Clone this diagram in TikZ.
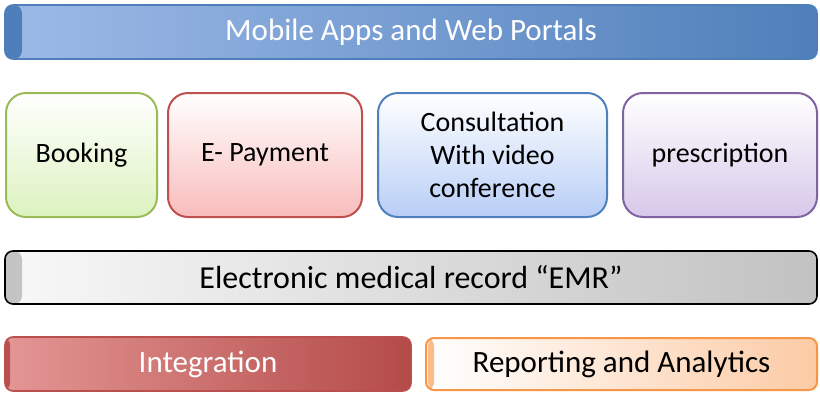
\documentclass[tikz,border=0pt]{standalone}
\usepackage{fontspec}
\setmainfont{Carlito}
\definecolor{topdark}{HTML}{4F7FBA}
\definecolor{toplight}{HTML}{9DBAE8}
\definecolor{bookline}{HTML}{9BBB59}
\definecolor{bookfill}{HTML}{DCF2BF}
\definecolor{payline}{HTML}{C0504D}
\definecolor{payfill}{HTML}{F9BCBC}
\definecolor{conline}{HTML}{4F81BD}
\definecolor{confill}{HTML}{B8CEF6}
\definecolor{preline}{HTML}{8064A2}
\definecolor{prefill}{HTML}{D7C8E9}
\definecolor{emrleft}{HTML}{F8F8F8}
\definecolor{emrright}{HTML}{C2C2C2}
\definecolor{emrstrip}{HTML}{C4C4C4}
\definecolor{intleft}{HTML}{E39694}
\definecolor{intmid}{HTML}{DC6B69}
\definecolor{intright}{HTML}{B44B49}
\definecolor{intline}{HTML}{B9504D}
\definecolor{repline}{HTML}{F79646}
\definecolor{repfill}{HTML}{FCCBA5}
\definecolor{repstrip}{HTML}{FDBB86}
\tikzset{
  txt/.style={font=\fontsize{28}{33}\selectfont, align=center, inner sep=0pt},
  bar/.style={txt, font=\fontsize{31}{33}\selectfont, rounded corners=8pt, line width=1.6pt, minimum height=#1},
  tile/.style={txt, rounded corners=20pt, line width=2pt, minimum height=124pt,
    top color=white, shading angle=45},
}
\begin{document}
\begin{tikzpicture}[x=1pt,y=-1pt]
\useasboundingbox (0,0) rectangle (820,392);
% top bar
\node[bar=54pt, minimum width=812pt, draw=topdark, left color=toplight, right color=topdark,
  text=white,
  path picture={\fill[topdark] (path picture bounding box.north west) rectangle
     ([xshift=17pt]path picture bounding box.south west);}]
  (apps) at (411,32) {Mobile Apps and Web Portals};
% tiles
\node[tile, minimum width=151pt, draw=bookline, bottom color=bookfill] (booking) at (81.5,155) {Booking};
\node[tile, minimum width=194pt, draw=payline, bottom color=payfill] (pay) at (265,155) {E- Payment};
\node[tile, minimum width=229pt, draw=conline, bottom color=confill] (consult) at (492.5,155) {Consultation\\With video\\conference};
\node[tile, minimum width=194pt, draw=preline, bottom color=prefill] (presc) at (720,155) {prescription};
% EMR bar
\node[bar=53pt, minimum width=812pt, draw=black, left color=emrleft, right color=emrright,
  font=\fontsize{32}{33}\selectfont,
  path picture={\fill[emrstrip] (path picture bounding box.north west) rectangle
     ([xshift=17pt]path picture bounding box.south west);}]
  (emr) at (411,277.5) {Electronic medical record “EMR”};
% bottom row
\node[bar=54pt, minimum width=406pt, draw=intline, left color=intleft, middle color=intmid, right color=intright,
  text=white,
  path picture={\fill[intline] (path picture bounding box.north west) rectangle
     ([xshift=5pt]path picture bounding box.south west);}]
  (integ) at (208,364) {Integration};
\node[bar=52pt, minimum width=391pt, draw=repline, line width=2pt, left color=white, right color=repfill,
  path picture={\fill[repstrip] ([xshift=2pt]path picture bounding box.north west) rectangle
     ([xshift=8pt]path picture bounding box.south west);}]
  (report) at (621.5,364) {Reporting and Analytics};
\end{tikzpicture}
\end{document}
